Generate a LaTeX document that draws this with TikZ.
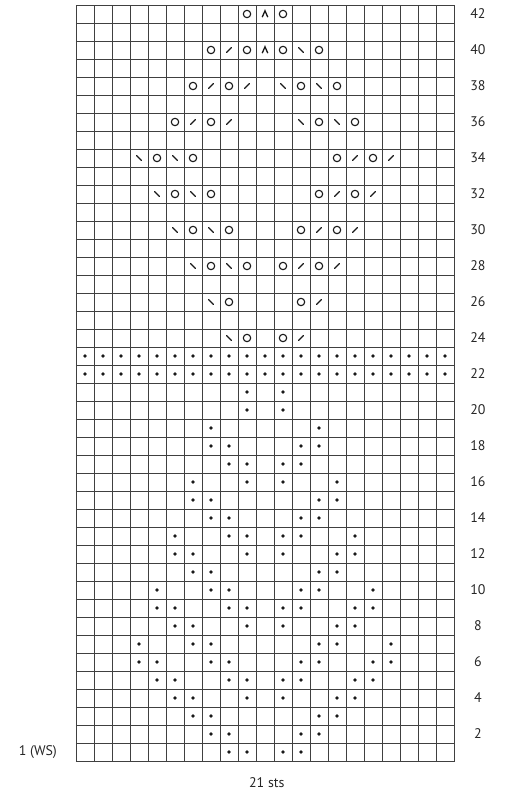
\documentclass[tikz,border=0pt]{standalone}
\usepackage{fontspec}
\setmainfont{PT Sans}
\usetikzlibrary{positioning}
\begin{document}
\begin{tikzpicture}[
    x=18bp, y=18bp,
    every node/.style={font=\fontsize{14}{16}\selectfont,text=black!85,inner sep=0pt},
    gridline/.style={draw=black!75,line width=0.9bp},
    purl/.style={fill=black!90},
    yo/.style={draw=black!90,line width=1.1bp},
    dec/.style={draw=black!90,line width=1.2bp,line cap=round},
    cdd/.style={draw=black!90,line width=1.3bp,line join=miter}
]
\useasboundingbox (-4.222,-2) rectangle (23.944,42.278);

% chart grid: 21 sts by 42 rows
\draw[gridline,step=1] (0,0) grid (21,42);
\draw[gridline] (0,0) rectangle (21,42);

% purl stitches, row by row
\foreach \r/\cols in {1/{9,10,12,13}, 2/{8,9,13,14}, 3/{7,8,14,15},
    4/{6,7,10,12,15,16}, 5/{5,6,9,10,12,13,16,17}, 6/{4,5,8,9,13,14,17,18},
    7/{4,7,8,14,15,18}, 8/{6,7,10,12,15,16}, 9/{5,6,9,10,12,13,16,17},
    10/{5,8,9,13,14,17}, 11/{7,8,14,15}, 12/{6,7,10,12,15,16},
    13/{6,9,10,12,13,16}, 14/{8,9,13,14}, 15/{7,8,14,15}, 16/{7,10,12,15},
    17/{9,10,12,13}, 18/{8,9,13,14}, 19/{8,14}, 20/{10,12}, 21/{10,12},
    22/{1,...,21}, 23/{1,...,21}}
  \foreach \c in \cols
    \fill[purl] (\c-0.5,\r-0.5) circle (1.9bp);

% yarnovers
\foreach \c/\r in {10/24,12/24, 9/26,13/26, 8/28,10/28,12/28,14/28,
    7/30,9/30,13/30,15/30, 6/32,8/32,14/32,16/32, 5/34,7/34,15/34,17/34,
    6/36,8/36,14/36,16/36, 7/38,9/38,13/38,15/38, 8/40,10/40,12/40,14/40,
    10/42,12/42}
  \draw[yo] (\c-0.5,\r-0.5) circle (3.7bp);

% k2tog
\foreach \c/\r in {13/24, 14/26, 13/28,15/28, 14/30,16/30, 15/32,17/32,
    16/34,18/34, 7/36,9/36, 8/38,10/38, 9/40}
  \draw[dec] (\c-0.5,\r-0.5) ++(-2.5bp,-2.5bp) -- ++(5bp,5bp);

% ssk
\foreach \c/\r in {9/24, 8/26, 7/28,9/28, 6/30,8/30, 5/32,7/32,
    4/34,6/34, 13/36,15/36, 12/38,14/38, 13/40}
  \draw[dec] (\c-0.5,\r-0.5) ++(-2.5bp,2.5bp) -- ++(5bp,-5bp);

% central double decreases
\foreach \r in {40,42}
  \draw[cdd] (10.5,\r-0.5) ++(-2.8bp,-3.2bp) -- ++(2.8bp,6.4bp) -- ++(2.8bp,-6.4bp);

% row numbers and captions
\foreach \r in {2,4,...,42}
  \node (lbl\r) at (22.33,\r-0.5) {\r};
\node[anchor=east] (ws) at (-1.05,0.5) {1 (WS)};
\node (sts) at (10.6,-1.22) {21 sts};
\end{tikzpicture}
\end{document}
